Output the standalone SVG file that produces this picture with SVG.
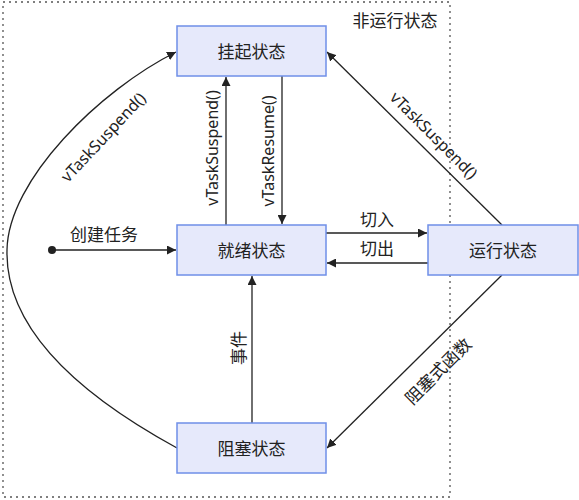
<svg xmlns="http://www.w3.org/2000/svg" width="579" height="500" viewBox="0 0 579 500">
<defs>
<style>
.box{fill:#e6e9fb;stroke:#6f8fe8;stroke-width:1.5}
.t{font-family:"Noto Sans","Noto Sans CJK SC",sans-serif;fill:#222;text-anchor:middle;dominant-baseline:central}
.cj{font-size:17px}
.lt{font-size:16px}
.c{fill:none;stroke:#222;stroke-width:1.3}
</style>
<marker id="ah" viewBox="0 0 10 10" refX="10" refY="5" markerWidth="9" markerHeight="9" markerUnits="userSpaceOnUse" orient="auto">
<path d="M0,0 L10,5 L0,10 Z" fill="#222"/>
</marker>
</defs>
<rect width="579" height="500" fill="#fff"/>
<g id="region">
<rect x="3" y="2" width="447" height="495" fill="none" stroke="#555" stroke-width="1.3" stroke-dasharray="2 4"/>
<text class="t cj" x="395" y="20">非运行状态</text>
</g>
<g id="connectors">
<path class="c" d="M226,225 V77" marker-end="url(#ah)"/>
<path class="c" d="M282,76 V224" marker-end="url(#ah)"/>
<path class="c" d="M326,233 H427" marker-end="url(#ah)"/>
<path class="c" d="M428,263 H327" marker-end="url(#ah)"/>
<circle cx="52" cy="250" r="4" fill="#222"/>
<path class="c" d="M52,250 H176" marker-end="url(#ah)"/>
<path class="c" d="M252,423 V276" marker-end="url(#ah)"/>
<path class="c" d="M502,225 L327,52" marker-end="url(#ah)"/>
<path class="c" d="M502,275 L327,448" marker-end="url(#ah)"/>
<path class="c" d="M177,448 C80,395 5,330 7,250 C8,180 100,90 176,52" marker-end="url(#ah)"/>
<text class="t lt" transform="translate(212,148) rotate(-90)">vTaskSuspend()</text>
<text class="t lt" transform="translate(268,151) rotate(-90)">vTaskResume()</text>
<text class="t cj" transform="translate(238,348) rotate(-90)">事件</text>
<text class="t lt" transform="translate(103,137) rotate(-47)">vTaskSuspend()</text>
<text class="t lt" transform="translate(434,135) rotate(45)">vTaskSuspend()</text>
<text class="t cj" transform="translate(438,371) rotate(-45)">阻塞式函数</text>
<text class="t cj" x="377" y="219">切入</text>
<text class="t cj" x="377" y="248">切出</text>
<text class="t cj" x="104" y="234">创建任务</text>
</g>
<g id="suspended">
<rect class="box" x="177" y="26" width="149" height="50"/>
<text class="t cj" x="251.5" y="51">挂起状态</text>
</g>
<g id="ready">
<rect class="box" x="177" y="225" width="149" height="50"/>
<text class="t cj" x="251.5" y="250">就绪状态</text>
</g>
<g id="running">
<rect class="box" x="428" y="225" width="150" height="50"/>
<text class="t cj" x="503" y="250">运行状态</text>
</g>
<g id="blocked">
<rect class="box" x="177" y="423" width="149" height="50"/>
<text class="t cj" x="251.5" y="448">阻塞状态</text>
</g>
</svg>
